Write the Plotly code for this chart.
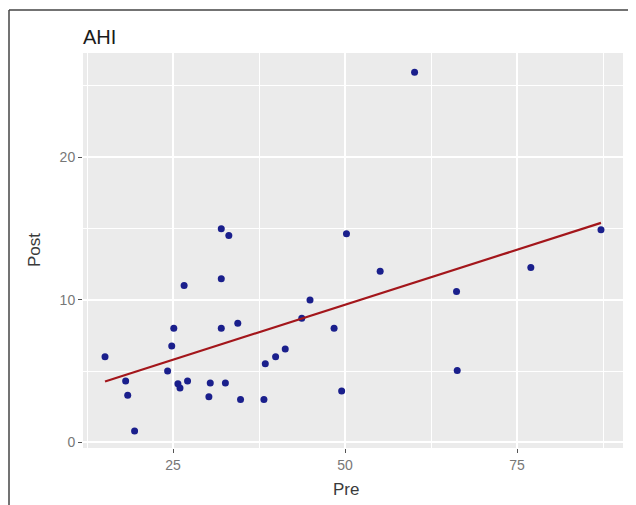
import numpy as np
import plotly.graph_objects as go

# Data
pre = [15.1, 18.1, 18.4, 19.4, 24.2, 24.8, 25.1, 25.7, 26.0, 26.6, 27.1,
       30.2, 30.4, 32.0, 33.1, 32.0, 32.0, 32.6, 34.4, 34.8,
       38.2, 38.4, 39.9, 41.3, 43.7, 44.9, 48.4, 49.5, 50.2,
       55.1, 60.1, 66.2, 66.3, 77.0, 87.2]
post = [6.0, 4.3, 3.3, 0.8, 5.0, 6.75, 8.0, 4.1, 3.8, 11.0, 4.3,
        3.2, 4.15, 14.98, 14.5, 11.47, 8.0, 4.15, 8.34, 3.0,
        3.0, 5.5, 6.0, 6.55, 8.7, 9.98, 8.0, 3.6, 14.63,
        12.0, 25.95, 10.58, 5.04, 12.25, 14.9]
x_ticks = [25, 50, 75]
y_ticks = [0, 10, 20]
title_text = "AHI"
x_title = "Pre"
y_title = "Post"

# linear fit (like geom_smooth(method="lm", se=FALSE))
slope, intercept = np.polyfit(pre, post, 1)
fit_x = [min(pre), max(pre)]
fit_y = [intercept + slope * v for v in fit_x]

FONT = "Liberation Sans, Arial, sans-serif"

# the page body has an 8px margin, so the figure is sized to fit the window
W, H = 628, 497
L, T = 75, 45
PW, PH = 540, 395

fig = go.Figure()
fig.add_trace(go.Scatter(x=pre, y=post, mode="markers",
                         marker=dict(color="#1a1f8c", size=7,
                                     line=dict(width=0)),
                         showlegend=False))
fig.add_trace(go.Scatter(x=fit_x, y=fit_y, mode="lines",
                         line=dict(color="#a3161b", width=2.2),
                         showlegend=False))

axis_common = dict(
    showgrid=True, gridcolor="white", gridwidth=1.6,
    zeroline=False, showline=False,
    ticks="outside", ticklen=4, tickwidth=1.2, tickcolor="#555555",
    tickfont=dict(family=FONT, size=14, color="#777777"),
)

bx = -(L - 1) / PW          # left frame line (page x ~ 9)
by = 1 + (53 - 10) / PH     # top frame line (page y ~ 10)

fig.update_layout(
    width=W, height=H,
    margin=dict(l=L, r=W - L - PW, t=T, b=H - T - PH),
    paper_bgcolor="white", plot_bgcolor="#ebebeb",
    title=dict(text=title_text, x=0, xref="paper", xanchor="left",
               y=1 - 29 / H, yanchor="middle",
               font=dict(family=FONT, size=20, color="#1a1a1a")),
    xaxis=dict(range=[11.9, 90.4], tickvals=x_ticks,
               minor=dict(dtick=12.5, tick0=0, showgrid=True,
                          gridcolor="white", gridwidth=0.8),
               **axis_common),
    yaxis=dict(range=[-0.4, 27.3], tickvals=y_ticks,
               minor=dict(dtick=5, tick0=0, showgrid=True,
                          gridcolor="white", gridwidth=0.8),
               **axis_common),
    annotations=[
        dict(text=x_title, xref="paper", yref="paper",
             x=(346 - 83) / PW, y=-(490 - 448) / PH,
             xanchor="center", yanchor="middle", showarrow=False,
             font=dict(family=FONT, size=17, color="#3a3a3a")),
        dict(text=y_title, xref="paper", yref="paper",
             x=-(83 - 34) / PW, y=(448 - 250) / PH,
             xanchor="center", yanchor="middle", showarrow=False,
             textangle=-90,
             font=dict(family=FONT, size=17, color="#3a3a3a")),
    ],
    shapes=[
        dict(type="line", xref="paper", yref="paper",
             x0=bx, x1=1 + (W - L - PW) / PW, y0=by, y1=by,
             line=dict(color="#444444", width=1.5), layer="above"),
        dict(type="line", xref="paper", yref="paper",
             x0=bx, x1=bx, y0=by, y1=-(H - T - PH) / PH,
             line=dict(color="#444444", width=1.5), layer="above"),
    ],
)

fig.write_html("out.html")
